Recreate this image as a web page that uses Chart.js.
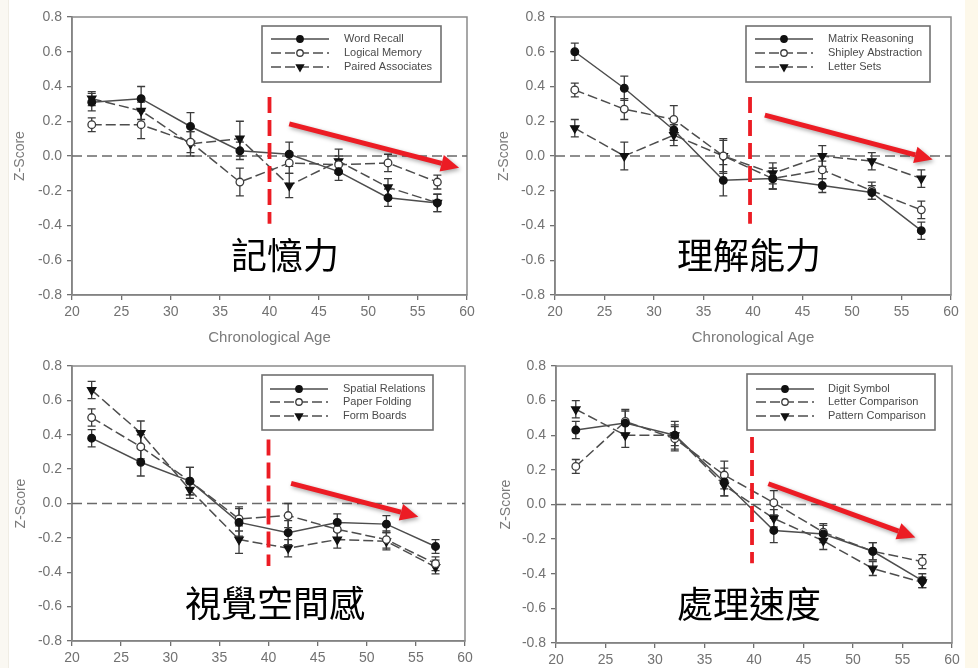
<!DOCTYPE html>
<html>
<head>
<meta charset="utf-8">
<script src="https://cdn.jsdelivr.net/npm/chart.js@4.4.1/dist/chart.umd.min.js"></script>
<style>
  html, body { margin: 0; padding: 0; background: #ffffff; }
  body { width: 978px; height: 668px; position: relative; overflow: hidden; }
  .panel { position: absolute; }
  .strip { position: absolute; top: 0; height: 668px; }
  .domain {
    position: absolute;
    font-family: "Noto Sans CJK TC", "Noto Sans CJK JP", sans-serif;
    font-size: 36px;
    line-height: 1;
    color: #000;
    transform: translate(-50%, -50%);
    white-space: nowrap;
  }
</style>
</head>
<body>
<div class="strip" style="left:0;width:8px;background:#faf8f2;border-right:1px solid #f0ede4;"></div>
<div class="strip" style="left:965px;width:13px;background:#fdf8ea;"></div>

<canvas id="memory" class="panel" width="489" height="345" style="left:0;top:0;"></canvas>
<canvas id="reasoning" class="panel" width="489" height="345" style="left:489px;top:0;"></canvas>
<canvas id="spatial" class="panel" width="489" height="323" style="left:0;top:345px;"></canvas>
<canvas id="speed" class="panel" width="489" height="323" style="left:489px;top:345px;"></canvas>

<div class="domain" style="left:285px;top:253px;">記憶力</div>
<div class="domain" style="left:749px;top:253px;">理解能力</div>
<div class="domain" style="left:275px;top:601px;">視覺空間感</div>
<div class="domain" style="left:749px;top:602px;">處理速度</div>

<script>
// Age groups (mid-points) and axis ticks
const ages = [22, 27, 32, 37, 42, 47, 52, 57];
const xTicks = [20, 25, 30, 35, 40, 45, 50, 55, 60];
const yTicks = [-0.8, -0.6, -0.4, -0.2, 0, 0.2, 0.4, 0.6, 0.8];

// Memory
const memoryNames = ['Word Recall', 'Logical Memory', 'Paired Associates'];
const wordRecall        = [0.31, 0.33, 0.17, 0.03, 0.01, -0.09, -0.24, -0.27];
const wordRecallErr     = [0.05, 0.07, 0.08, 0.05, 0.07, 0.05, 0.05, 0.05];
const logicalMemory     = [0.18, 0.18, 0.08, -0.15, -0.04, -0.05, -0.04, -0.15];
const logicalMemoryErr  = [0.04, 0.08, 0.06, 0.08, 0.06, 0.05, 0.05, 0.04];
const pairedAssoc       = [0.33, 0.26, 0.07, 0.10, -0.17, -0.03, -0.18, -0.27];
const pairedAssocErr    = [0.04, 0.05, 0.07, 0.10, 0.07, 0.07, 0.05, 0.05];

// Reasoning
const reasoningNames = ['Matrix Reasoning', 'Shipley Abstraction', 'Letter Sets'];
const matrixReasoning    = [0.60, 0.39, 0.15, -0.14, -0.13, -0.17, -0.21, -0.43];
const matrixReasoningErr = [0.05, 0.07, 0.06, 0.09, 0.06, 0.04, 0.04, 0.05];
const shipleyAbs         = [0.38, 0.27, 0.21, 0.00, -0.13, -0.08, -0.20, -0.31];
const shipleyAbsErr      = [0.04, 0.06, 0.08, 0.09, 0.06, 0.05, 0.05, 0.05];
const letterSets         = [0.16, 0.00, 0.12, 0.00, -0.10, 0.00, -0.03, -0.13];
const letterSetsErr      = [0.05, 0.08, 0.06, 0.10, 0.06, 0.06, 0.05, 0.05];

// Spatial visualization
const spatialNames = ['Spatial Relations', 'Paper Folding', 'Form Boards'];
const spatialRel      = [0.38, 0.24, 0.13, -0.11, -0.17, -0.11, -0.12, -0.25];
const spatialRelErr   = [0.05, 0.08, 0.08, 0.08, 0.07, 0.05, 0.05, 0.04];
const paperFolding    = [0.50, 0.33, 0.13, -0.09, -0.07, -0.15, -0.21, -0.35];
const paperFoldingErr = [0.05, 0.07, 0.08, 0.07, 0.07, 0.05, 0.05, 0.04];
const formBoards      = [0.66, 0.41, 0.08, -0.21, -0.26, -0.21, -0.22, -0.37];
const formBoardsErr   = [0.05, 0.07, 0.05, 0.08, 0.05, 0.05, 0.05, 0.04];

// Processing speed
const speedNames = ['Digit Symbol', 'Letter Comparison', 'Pattern Comparison'];
const digitSymbol      = [0.43, 0.47, 0.40, 0.13, -0.15, -0.17, -0.27, -0.44];
const digitSymbolErr   = [0.05, 0.07, 0.08, 0.08, 0.07, 0.05, 0.05, 0.04];
const letterComp       = [0.22, 0.48, 0.38, 0.17, 0.01, -0.16, -0.27, -0.33];
const letterCompErr    = [0.04, 0.07, 0.07, 0.08, 0.07, 0.05, 0.05, 0.04];
const patternComp      = [0.55, 0.40, 0.40, 0.11, -0.08, -0.21, -0.37, -0.45];
const patternCompErr   = [0.05, 0.07, 0.06, 0.06, 0.05, 0.05, 0.04, 0.03];

// Age-40 divider and decline arrow for each domain (in axis units)
const memoryDivider    = [40, 0.34, -0.39];
const memoryArrow      = [42.0, 0.185, 59.2, -0.068];
const reasoningDivider = [39.7, 0.34, -0.39];
const reasoningArrow   = [41.2, 0.235, 58.15, -0.02];
const spatialDivider   = [40, 0.373, -0.364];
const spatialArrow     = [42.3, 0.117, 55.25, -0.077];
const speedDivider     = [39.8, 0.39, -0.34];
const speedArrow       = [41.45, 0.12, 56.3, -0.19];

const AXIS_FONT = '"Liberation Sans", Arial, sans-serif';
const RED = '#ec1c24';

function buildDatasets(names, values, errors) {
  return names.map((name, i) => ({
    label: name,
    data: ages.map((a, k) => ({ x: a, y: values[i][k] })),
    errors: errors[i],
    borderColor: '#4d4d4d',
    borderWidth: 1.5,
    borderDash: i === 0 ? [] : [10, 4],
    pointStyle: i === 2 ? 'triangle' : 'circle',
    pointRotation: i === 2 ? 180 : 0,
    pointRadius: i === 2 ? 4.8 : 3.8,
    pointBackgroundColor: i === 1 ? '#ffffff' : '#111111',
    pointBorderColor: i === 1 ? '#3a3a3a' : '#111111',
    pointBorderWidth: 1.3,
    fill: false,
    tension: 0
  }));
}

// Frame, zero reference line and error bars (under the markers)
const underlay = {
  id: 'underlay',
  beforeDatasetsDraw(chart) {
    const { ctx, chartArea: a, scales: { x, y } } = chart;
    ctx.save();
    ctx.strokeStyle = '#8a8a8a';
    ctx.lineWidth = 1.5;
    ctx.strokeRect(a.left, a.top, a.right - a.left, a.bottom - a.top);

    const y0 = y.getPixelForValue(0);
    ctx.strokeStyle = '#6a6a6a';
    ctx.lineWidth = 1.6;
    ctx.setLineDash([10, 5]);
    ctx.beginPath();
    ctx.moveTo(a.left, y0);
    ctx.lineTo(a.right, y0);
    ctx.stroke();

    ctx.setLineDash([]);
    ctx.strokeStyle = '#3c3c3c';
    ctx.lineWidth = 1.3;
    chart.data.datasets.forEach(ds => {
      if (!ds.errors) return;
      ds.data.forEach((p, k) => {
        const e = ds.errors[k];
        const px = x.getPixelForValue(p.x);
        const t = y.getPixelForValue(p.y + e);
        const b = y.getPixelForValue(p.y - e);
        ctx.beginPath();
        ctx.moveTo(px, t); ctx.lineTo(px, b);
        ctx.moveTo(px - 4, t); ctx.lineTo(px + 4, t);
        ctx.moveTo(px - 4, b); ctx.lineTo(px + 4, b);
        ctx.stroke();
      });
    });
    ctx.restore();
  }
};

// Red divider at age 40 and red decline arrow
const highlight = {
  id: 'highlight',
  afterDatasetsDraw(chart, args, opts) {
    const { ctx, scales: { x, y } } = chart;
    const [dx, dy1, dy2] = opts.divider;
    const [ax1, ay1, ax2, ay2] = opts.arrow;
    ctx.save();
    ctx.strokeStyle = RED;
    ctx.lineWidth = 3.8;
    ctx.setLineDash([16, 7]);
    ctx.beginPath();
    ctx.moveTo(x.getPixelForValue(dx), y.getPixelForValue(dy1));
    ctx.lineTo(x.getPixelForValue(dx), y.getPixelForValue(dy2));
    ctx.stroke();

    const x1 = x.getPixelForValue(ax1), y1 = y.getPixelForValue(ay1);
    const x2 = x.getPixelForValue(ax2), y2 = y.getPixelForValue(ay2);
    const ang = Math.atan2(y2 - y1, x2 - x1);
    const headLen = 18, headHalf = 8.5;
    const bx = x2 - headLen * Math.cos(ang), by = y2 - headLen * Math.sin(ang);
    ctx.setLineDash([]);
    ctx.shadowColor = 'rgba(0,0,0,0.35)';
    ctx.shadowBlur = 4;
    ctx.shadowOffsetX = 1.5;
    ctx.shadowOffsetY = 2;
    ctx.lineWidth = 5;
    ctx.lineCap = 'butt';
    ctx.beginPath();
    ctx.moveTo(x1, y1);
    ctx.lineTo(bx, by);
    ctx.stroke();
    ctx.fillStyle = RED;
    ctx.beginPath();
    ctx.moveTo(x2, y2);
    ctx.lineTo(bx + headHalf * Math.sin(ang), by - headHalf * Math.cos(ang));
    ctx.lineTo(bx - headHalf * Math.sin(ang), by + headHalf * Math.cos(ang));
    ctx.closePath();
    ctx.fill();
    ctx.restore();
  }
};

// Boxed legend with line samples
const boxLegend = {
  id: 'boxLegend',
  afterDraw(chart, args, o) {
    const { ctx } = chart;
    ctx.save();
    ctx.strokeStyle = '#707070';
    ctx.lineWidth = 1.6;
    ctx.fillStyle = '#ffffff';
    ctx.fillRect(o.x, o.y, o.w, o.h);
    ctx.strokeRect(o.x, o.y, o.w, o.h);
    chart.data.datasets.forEach((ds, i) => {
      const ry = o.rows[i];
      ctx.strokeStyle = ds.borderColor;
      ctx.lineWidth = ds.borderWidth;
      ctx.setLineDash(ds.borderDash);
      ctx.beginPath();
      ctx.moveTo(o.x0, ry);
      ctx.lineTo(o.x1, ry);
      ctx.stroke();
      ctx.setLineDash([]);
      ctx.fillStyle = ds.pointBackgroundColor;
      ctx.strokeStyle = ds.pointBorderColor;
      ctx.lineWidth = ds.pointBorderWidth;
      Chart.helpers.drawPoint(ctx, {
        pointStyle: ds.pointStyle,
        rotation: ds.pointRotation,
        radius: ds.pointRadius * 0.85,
        borderWidth: ds.pointBorderWidth
      }, (o.x0 + o.x1) / 2, ry);
      ctx.fillStyle = '#4a4a4a';
      ctx.font = '11px ' + AXIS_FONT;
      ctx.textBaseline = 'middle';
      ctx.textAlign = 'left';
      ctx.fillText(ds.label, o.tx, ry);
    });
    ctx.restore();
  }
};

function makePanel(id, names, values, errors, p) {
  new Chart(document.getElementById(id), {
    type: 'line',
    data: { datasets: buildDatasets(names, values, errors) },
    plugins: [underlay, highlight, boxLegend],
    options: {
      responsive: false,
      animation: false,
      devicePixelRatio: 1,
      layout: { padding: { left: 0, right: p.right, top: p.top, bottom: 0 } },
      plugins: {
        legend: { display: false },
        tooltip: { enabled: false },
        highlight: { divider: p.divider, arrow: p.arrow },
        boxLegend: p.legend
      },
      scales: {
        x: {
          type: 'linear', min: 20, max: 60,
          afterBuildTicks: s => { s.ticks = xTicks.map(v => ({ value: v })); },
          afterFit: s => { s.height = p.xHeight; },
          grid: { drawOnChartArea: false, drawTicks: true, tickLength: 5, color: '#707070', lineWidth: 1.3 },
          border: { display: true, color: '#707070', width: 1.6 },
          ticks: {
            color: '#727272', padding: 4, maxRotation: 0, autoSkip: false,
            font: { family: AXIS_FONT, size: 14 },
            callback: v => String(v)
          },
          title: {
            display: p.xTitle, text: 'Chronological Age', color: '#7a7a7a',
            font: { family: AXIS_FONT, size: 15, lineHeight: 1.0 }, padding: { top: 2, bottom: 0 }
          }
        },
        y: {
          type: 'linear', min: -0.8, max: 0.8,
          afterBuildTicks: s => { s.ticks = yTicks.map(v => ({ value: v })); },
          afterFit: s => { s.width = p.left; },
          grid: { drawOnChartArea: false, drawTicks: true, tickLength: 5, color: '#707070', lineWidth: 1.3 },
          border: { display: true, color: '#707070', width: 1.6 },
          ticks: {
            color: '#727272', padding: 5,
            font: { family: AXIS_FONT, size: 14 },
            callback: v => (Math.abs(v) < 1e-9 ? 0 : v).toFixed(1)
          },
          title: {
            display: true, text: 'Z-Score', color: '#7a7a7a',
            font: { family: AXIS_FONT, size: 14 }, padding: { top: p.yTitlePad, bottom: 0 }
          }
        }
      }
    }
  });
}

makePanel('memory', memoryNames,
  [wordRecall, logicalMemory, pairedAssoc],
  [wordRecallErr, logicalMemoryErr, pairedAssocErr],
  { left: 72, right: 22, top: 17, xHeight: 50, xTitle: true, yTitlePad: 12,
    divider: memoryDivider, arrow: memoryArrow,
    legend: { x: 262, y: 26, w: 179, h: 56, rows: [39, 53, 67], x0: 271, x1: 329, tx: 344 } });

makePanel('reasoning', reasoningNames,
  [matrixReasoning, shipleyAbs, letterSets],
  [matrixReasoningErr, shipleyAbsErr, letterSetsErr],
  { left: 66, right: 27, top: 17, xHeight: 50, xTitle: true, yTitlePad: 7,
    divider: reasoningDivider, arrow: reasoningArrow,
    legend: { x: 257, y: 26, w: 184, h: 56, rows: [39, 53, 67], x0: 266, x1: 324, tx: 339 } });

makePanel('spatial', spatialNames,
  [spatialRel, paperFolding, formBoards],
  [spatialRelErr, paperFoldingErr, formBoardsErr],
  { left: 72, right: 24, top: 21, xHeight: 27, xTitle: false, yTitlePad: 13,
    divider: spatialDivider, arrow: spatialArrow,
    legend: { x: 262, y: 30, w: 171, h: 55, rows: [44, 57, 71], x0: 270, x1: 328, tx: 343 } });

makePanel('speed', speedNames,
  [digitSymbol, letterComp, patternComp],
  [digitSymbolErr, letterCompErr, patternCompErr],
  { left: 67, right: 26, top: 21, xHeight: 25, xTitle: false, yTitlePad: 9,
    divider: speedDivider, arrow: speedArrow,
    legend: { x: 258, y: 29, w: 188, h: 56, rows: [44, 57, 71], x0: 267, x1: 325, tx: 339 } });
</script>
</body>
</html>
